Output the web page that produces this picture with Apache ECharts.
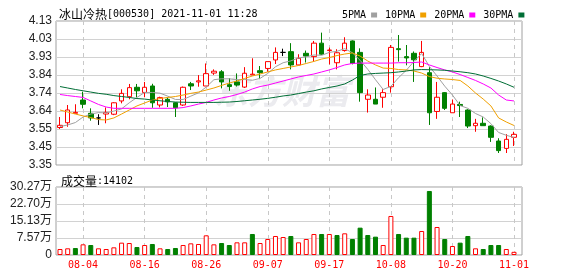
<!DOCTYPE html>
<html><head><meta charset="utf-8">
<script src="https://cdn.jsdelivr.net/npm/echarts@6/dist/echarts.min.js"></script>
<style>html,body{margin:0;padding:0;background:#fff}#c{width:578px;height:276px}</style>
</head><body><div id="c"></div><script>
const dates = ['07-30','08-02','08-03','08-04','08-05','08-06','08-09','08-10','08-11','08-12','08-13','08-16','08-17','08-18','08-19','08-20','08-23','08-24','08-25','08-26','08-27','08-30','08-31','09-01','09-02','09-03','09-06','09-07','09-08','09-09','09-10','09-13','09-14','09-15','09-16','09-17','09-22','09-23','09-24','09-27','09-28','09-29','09-30','10-08','10-11','10-12','10-13','10-14','10-15','10-18','10-19','10-20','10-21','10-22','10-25','10-26','10-27','10-28','10-29','11-01'];
const opens  = [3.553,3.579,3.630,3.702,3.630,3.605,3.626,3.625,3.697,3.720,3.771,3.743,3.778,3.675,3.706,3.687,3.675,3.790,3.800,3.778,3.848,3.855,3.785,3.800,3.772,3.838,3.861,3.873,3.919,3.960,3.964,3.892,3.955,3.937,4.010,3.970,3.904,3.970,4.022,3.960,3.706,3.706,3.717,3.774,3.980,3.937,3.955,3.883,3.850,3.640,3.742,3.633,3.678,3.648,3.563,3.576,3.561,3.480,3.440,3.500];
const closes = [3.565,3.648,3.635,3.679,3.605,3.605,3.635,3.687,3.738,3.769,3.752,3.771,3.687,3.715,3.692,3.660,3.771,3.778,3.806,3.845,3.858,3.800,3.775,3.783,3.847,3.842,3.850,3.910,3.960,3.960,3.892,3.928,3.940,4.010,3.950,3.973,3.958,4.010,3.900,3.742,3.729,3.680,3.742,3.987,3.975,3.930,3.920,3.960,3.633,3.717,3.657,3.680,3.672,3.561,3.576,3.563,3.500,3.428,3.489,3.516];
const lows   = [3.545,3.557,3.630,3.657,3.590,3.567,3.576,3.620,3.684,3.706,3.717,3.717,3.660,3.662,3.664,3.610,3.670,3.756,3.774,3.778,3.838,3.765,3.752,3.775,3.767,3.838,3.815,3.855,3.897,3.940,3.868,3.890,3.905,3.910,3.947,3.895,3.868,3.964,3.895,3.693,3.634,3.680,3.660,3.742,3.910,3.890,3.800,3.880,3.567,3.600,3.648,3.633,3.610,3.550,3.530,3.563,3.475,3.415,3.415,3.453];
const highs  = [3.610,3.675,3.679,3.747,3.657,3.625,3.662,3.690,3.760,3.789,3.789,3.800,3.790,3.720,3.716,3.690,3.775,3.800,3.837,3.900,3.868,3.864,3.820,3.846,3.880,3.928,3.886,3.910,3.987,3.980,4.010,3.950,3.970,4.022,4.067,3.986,3.977,4.042,4.025,3.982,3.760,3.770,3.760,4.000,4.054,4.000,3.965,4.022,3.880,3.800,3.745,3.705,3.693,3.652,3.600,3.608,3.565,3.495,3.517,3.530];
const volumes = [26700,29700,31000,47500,44500,29700,26700,34100,54900,53400,35600,44500,49000,29700,26700,31200,44500,51900,49000,87600,47500,53400,44500,56400,56400,93500,53400,71200,84600,80100,84600,56400,71200,93500,93500,93500,89000,96500,71200,121700,89000,81600,44500,173700,93500,77200,77200,106900,285000,124700,71200,40000,54900,84600,29700,26700,44500,44500,26700,14102];
const ma5  = [3.558,3.567,3.580,3.610,3.626,3.634,3.632,3.642,3.654,3.687,3.716,3.743,3.743,3.739,3.723,3.705,3.705,3.723,3.741,3.772,3.812,3.817,3.817,3.812,3.813,3.809,3.819,3.846,3.882,3.904,3.914,3.930,3.936,3.946,3.944,3.960,3.966,3.980,3.958,3.917,3.868,3.812,3.759,3.776,3.823,3.863,3.911,3.954,3.884,3.832,3.777,3.729,3.672,3.657,3.629,3.610,3.574,3.526,3.511,3.499];
const ma10 = [3.648,3.637,3.626,3.616,3.607,3.596,3.594,3.605,3.626,3.648,3.670,3.686,3.702,3.710,3.716,3.721,3.729,3.738,3.745,3.756,3.767,3.781,3.794,3.805,3.819,3.832,3.843,3.854,3.865,3.873,3.881,3.889,3.900,3.911,3.924,3.932,3.943,3.951,3.957,3.940,3.913,3.892,3.875,3.873,3.867,3.865,3.859,3.848,3.829,3.820,3.816,3.813,3.808,3.778,3.740,3.707,3.670,3.605,3.583,3.564];
const ma20 = [3.732,3.726,3.721,3.716,3.697,3.678,3.664,3.657,3.657,3.657,3.657,3.657,3.657,3.657,3.657,3.657,3.661,3.670,3.680,3.689,3.702,3.713,3.721,3.732,3.745,3.762,3.775,3.783,3.794,3.805,3.816,3.827,3.835,3.843,3.854,3.865,3.878,3.892,3.900,3.902,3.902,3.902,3.902,3.902,3.904,3.904,3.905,3.908,3.892,3.878,3.865,3.854,3.840,3.824,3.808,3.789,3.767,3.729,3.702,3.697];
const ma30 = [3.775,3.767,3.759,3.752,3.745,3.738,3.733,3.726,3.721,3.716,3.710,3.707,3.702,3.698,3.694,3.691,3.690,3.689,3.689,3.689,3.689,3.690,3.691,3.694,3.698,3.702,3.706,3.711,3.717,3.724,3.729,3.737,3.745,3.752,3.762,3.770,3.778,3.789,3.810,3.835,3.843,3.846,3.848,3.850,3.854,3.859,3.865,3.867,3.866,3.865,3.863,3.859,3.855,3.850,3.843,3.832,3.819,3.805,3.789,3.771];
const priceTicks = ['3.35','3.45','3.55','3.64','3.74','3.84','3.93','4.03','4.13'];
const volTicks = ['0','7.57万','15.13万','22.70万','30.27万'];
const priceMin = 3.35, priceMax = 4.13, volMax = 302700;
const maNames = ['5PMA','10PMA','20PMA','30PMA'];
const labelStart = 3, labelEvery = 8;

const MONO = '"DejaVu Sans Mono","Noto Sans CJK SC",monospace';
const SANS = '"Liberation Sans","Noto Sans CJK SC",sans-serif';
const RED = '#ff0000', GREEN = '#008000';
const maColors = ['#a0a0a0','#f0a000','#ff00ff','#006e35'];
const maData = [ma5, ma10, ma20, ma30];
const showIdx = i => i >= labelStart && (i - labelStart) % labelEvery === 0;

const candleData = dates.map((d, i) => [opens[i], closes[i], lows[i], highs[i]]);
const volData = volumes.map((v, i) => {
  const up = i === 0 || closes[i] >= closes[i - 1];
  return { value: v, itemStyle: { color: up ? '#ffffff' : GREEN, borderColor: up ? RED : GREEN, borderWidth: 1 } };
});

const splitX = { show: true, interval: (i) => showIdx(i), lineStyle: { color: '#c8c8c8', type: [4, 4], width: 1 } };
const richTitle = {
  a: { fontFamily: '"Noto Sans CJK SC"', fontSize: 12, fontWeight: 'normal', color: '#000' },
  b: { fontFamily: MONO, fontSize: 10, fontWeight: 'normal', color: '#000' }
};

const chart = echarts.init(document.getElementById('c'), null, { renderer: 'canvas' });
chart.setOption({
  animation: false,
  backgroundColor: '#ffffff',
  title: [
    { text: '{a|冰山冷热}{b|[000530] 2021-11-01 11:28}', left: 54, top: 3, textStyle: { fontWeight: 'normal', rich: richTitle } },
    { text: '{a|成交量}{b|:14102}', left: 56, top: 170, textStyle: { fontWeight: 'normal', rich: richTitle } }
  ],
  legend: { left: 337, top: 5, align: 'right', icon: 'rect', itemWidth: 6, itemHeight: 5, itemGap: 8, selectedMode: false,
    textStyle: { fontFamily: MONO, fontSize: 10, color: '#000' }, data: maNames },
  graphic: [{ type: 'text', left: 214, top: 74, z: 0, silent: true,
    style: { text: '东方财富', font: 'bold italic 34px "Noto Sans CJK SC"', fill: '#ebebef' } }],
  grid: [
    { left: 56, right: 56, top: 21, height: 144, show: true, borderColor: '#a0a0a0', borderWidth: 1 },
    { left: 56, right: 56, top: 187, height: 68, show: true, borderColor: '#a0a0a0', borderWidth: 1 },
    { left: 60, right: 64, top: 21, height: 144 },
    { left: 60, right: 64, top: 187, height: 68 }
  ],
  xAxis: [
    { type: 'value', gridIndex: 0, show: false, min: 0, max: 1 },
    { type: 'value', gridIndex: 1, show: false, min: 0, max: 1 },
    { type: 'category', gridIndex: 2, data: dates, boundaryGap: false, axisLine: { show: false }, axisTick: { show: false }, axisLabel: { show: false }, splitLine: splitX },
    { type: 'category', gridIndex: 3, data: dates, boundaryGap: false, axisLine: { show: false }, axisTick: { show: false },
      axisLabel: { show: true, interval: (i) => showIdx(i), color: RED, fontFamily: MONO, fontSize: 10, margin: 5 }, splitLine: splitX }
  ],
  yAxis: [
    { type: 'value', gridIndex: 0, min: 0, max: 8, interval: 1, axisLine: { show: false }, axisTick: { show: false },
      axisLabel: { formatter: v => priceTicks[v], fontFamily: SANS, fontSize: 12, color: '#222', margin: 4 },
      splitLine: { lineStyle: { color: '#d2d2d2' } } },
    { type: 'value', gridIndex: 1, min: 0, max: 4, interval: 1, axisLine: { show: false }, axisTick: { show: false },
      axisLabel: { formatter: v => volTicks[v], fontFamily: SANS, fontSize: 12, color: '#222', margin: 4 },
      splitLine: { lineStyle: { color: '#d2d2d2' } } },
    { type: 'value', gridIndex: 2, min: priceMin, max: priceMax, show: false, splitLine: { show: false } },
    { type: 'value', gridIndex: 3, min: 0, max: volMax, show: false, splitLine: { show: false } }
  ],
  series: [
    { type: 'candlestick', name: 'K', xAxisIndex: 2, yAxisIndex: 2, data: candleData, barWidth: 5, clip: false, z: 2,
      itemStyle: { color: '#ffffff', color0: GREEN, borderColor: RED, borderColor0: GREEN, borderColorDoji: '#000000', borderWidth: 1 } },
    { type: 'bar', name: 'VOL', xAxisIndex: 3, yAxisIndex: 3, data: volData, barWidth: 5, z: 2 }
  ].concat(maNames.map((n, k) => ({
    type: 'line', name: n, xAxisIndex: 2, yAxisIndex: 2, data: maData[k], symbol: 'none', z: 3,
    lineStyle: { color: maColors[k], width: 1 }, itemStyle: { color: maColors[k] }
  })))
});
</script></body></html>
